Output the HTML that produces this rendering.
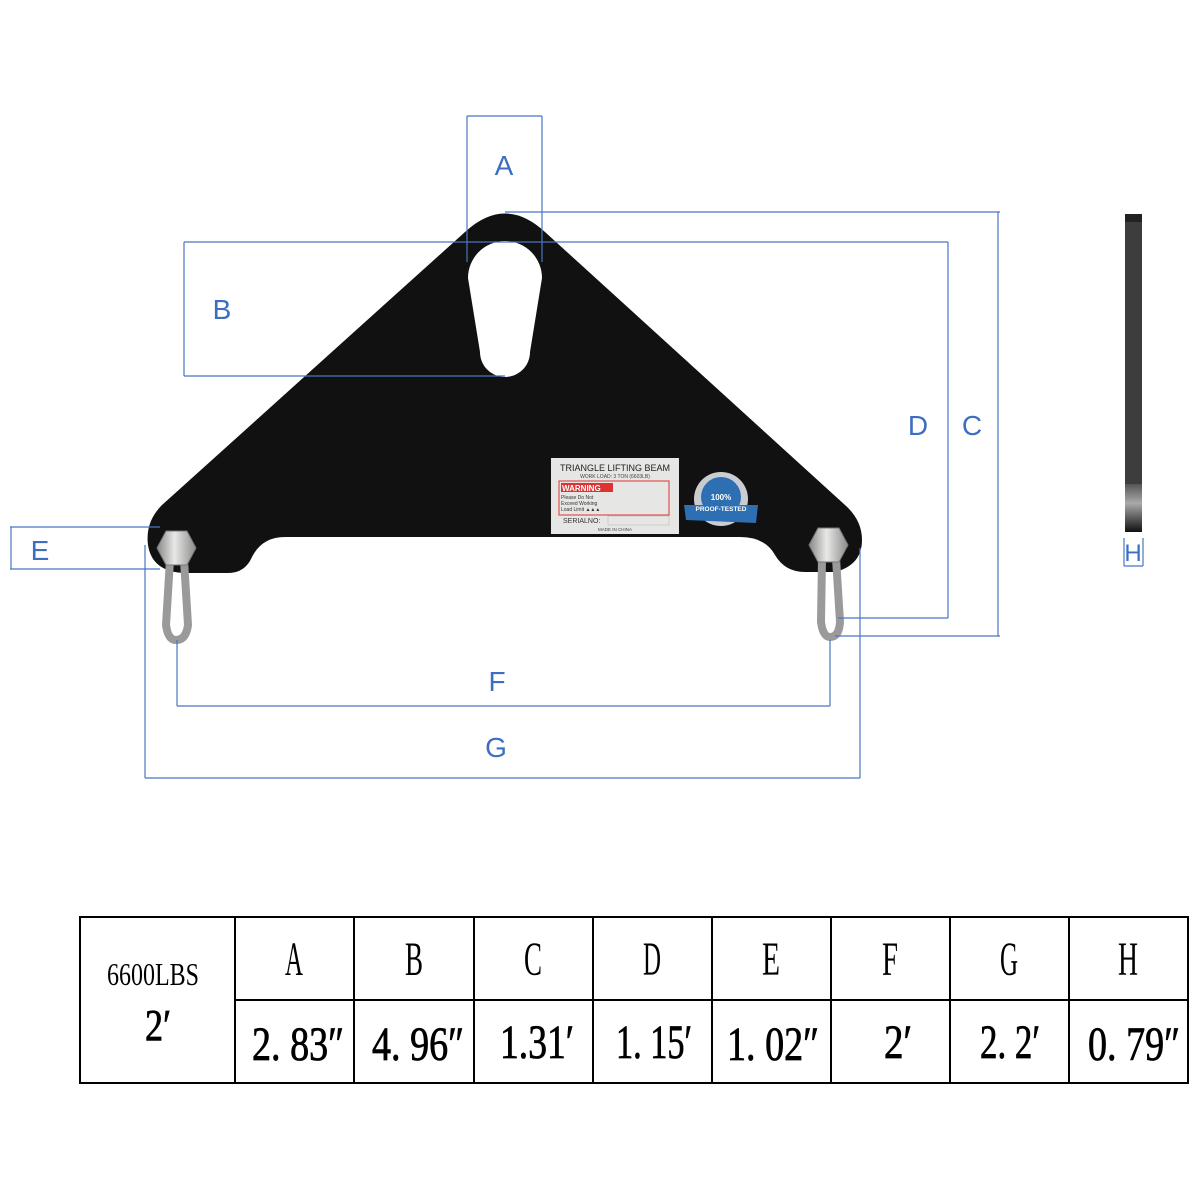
<!DOCTYPE html>
<html><head><meta charset="utf-8"><style>html,body{margin:0;padding:0;background:#fff}svg{display:block}</style></head>
<body>
<svg width="1200" height="1200" viewBox="0 0 1200 1200" xmlns="http://www.w3.org/2000/svg">
<defs>
<linearGradient id="bolt" x1="0" x2="1"><stop offset="0" stop-color="#888"/><stop offset=".45" stop-color="#e8e8e6"/><stop offset="1" stop-color="#8a8a8a"/></linearGradient>
<linearGradient id="side" x1="0" y1="0" x2="0" y2="1"><stop offset="0" stop-color="#555"/><stop offset=".4" stop-color="#aaa"/><stop offset="1" stop-color="#111"/></linearGradient>
</defs>
<path fill="#111" fill-rule="evenodd" d="M 200 573 L 228 573 Q 245 573 252 557 Q 262 537 285 537 L 740 537 Q 765 537 775 555 Q 785 572 805 572 L 835 572 Q 862 565 862 540 Q 862 520 845 505 L 545 232 Q 505 195 465 232 L 162 505 Q 145 522 148 545 Q 152 572 185 573 Z M 468 278 A 37 37 0 0 1 542 278 L 530 352 A 25 25 0 0 1 480 352 Z"/>
<g>
<path d="M170 560 L166 625 Q168 640 176 640 Q186 640 188 625 L184 560" fill="none" stroke="#9a9a9a" stroke-width="8"/>
<polygon points="157,548 166,531 187,531 196,548 187,565 166,565" fill="url(#bolt)" stroke="#777"/>
<path d="M822 558 L821 622 Q823 637 830 637 Q839 637 840 622 L836 558" fill="none" stroke="#9a9a9a" stroke-width="8"/>
<polygon points="809,545 818,528 839,528 848,545 839,562 818,562" fill="url(#bolt)" stroke="#777"/>
</g>
<rect x="551" y="458" width="128" height="76" fill="#e6e6e4"/>
<text x="615" y="471" font-family="Liberation Sans, sans-serif" font-size="9" text-anchor="middle" fill="#222">TRIANGLE LIFTING BEAM</text>
<text x="615" y="478" font-family="Liberation Sans, sans-serif" font-size="5" text-anchor="middle" fill="#444">WORK LOAD: 3 TON (6603LB)</text>
<rect x="559" y="481" width="110" height="34" fill="none" stroke="#d33" stroke-width="1"/>
<rect x="561" y="483" width="52" height="9" fill="#d33"/>
<text x="562" y="491" font-family="Liberation Sans, sans-serif" font-size="8" font-weight="bold" fill="#fff">WARNING</text>
<text x="561" y="499" font-family="Liberation Sans, sans-serif" font-size="5" fill="#333">Please Do Not</text>
<text x="561" y="505" font-family="Liberation Sans, sans-serif" font-size="5" fill="#333">Exceed Working</text>
<text x="561" y="511" font-family="Liberation Sans, sans-serif" font-size="5" fill="#333">Load Limit ▲▲▲</text>
<text x="563" y="523" font-family="Liberation Sans, sans-serif" font-size="7" fill="#333">SERIALNO:</text>
<rect x="608" y="516" width="61" height="9" fill="none" stroke="#bbb" stroke-width=".6"/>
<text x="615" y="531" font-family="Liberation Sans, sans-serif" font-size="4.5" text-anchor="middle" fill="#444">MADE IN CHINA</text>
<circle cx="721" cy="499" r="27" fill="#c9ccd0"/>
<circle cx="721" cy="497" r="20" fill="#2d6fb2"/>
<path d="M684 505 L758 505 L756 523 L686 520 Z" fill="#2d6fb2"/>
<text x="721" y="500" font-family="Liberation Sans, sans-serif" font-size="8" font-weight="bold" text-anchor="middle" fill="#fff">100%</text>
<text x="721" y="511" font-family="Liberation Sans, sans-serif" font-size="6.5" font-weight="bold" text-anchor="middle" fill="#fff">PROOF-TESTED</text>
<rect x="1125" y="214" width="17" height="270" fill="#3d3d3d"/>
<rect x="1125" y="214" width="17" height="8" fill="#222"/>
<rect x="1125" y="484" width="17" height="48" fill="url(#side)"/>
<g stroke="#4a74c6" stroke-width="1.2" fill="none">
<path d="M467 116 V262 M542 116 V262 M467 116 H542"/>
<path d="M184 242 H948 M184 242 V376 M184 376 H505"/>
<path d="M505 212 H1000 M998 212 V636 M835 636 H1000"/>
<path d="M948 242 V618 M838 618 H948"/>
<path d="M10 527 H160 M10 569 H160 M11 527 V569"/>
<path d="M177 640 V706 M830 640 V706 M177 706 H830"/>
<path d="M145 545 V778 M860 548 V778 M145 778 H860"/>
<path d="M1124 538 V566 M1143 538 V566 M1124 566 H1143"/>
</g>
<g font-family="Liberation Sans, sans-serif" font-size="28" fill="#3d6fc1" text-anchor="middle">
<text x="504" y="175">A</text>
<text x="222" y="319">B</text>
<text x="972" y="435">C</text>
<text x="918" y="435">D</text>
<text x="40" y="560">E</text>
<text x="497" y="691">F</text>
<text x="496" y="757">G</text>
<text x="1133" y="561" font-size="24">H</text>
</g>
<g stroke="#000" stroke-width="2" fill="none">
<rect x="80" y="917" width="1108" height="166"/>
<path d="M235 1000 H1188 M235 917 V1083 M354 917 V1083 M474 917 V1083 M593 917 V1083 M712 917 V1083 M831 917 V1083 M950 917 V1083 M1069 917 V1083"/>
</g>
<g font-family="Liberation Serif, serif" fill="#000" text-anchor="middle">
<text x="153" y="985" font-size="32" textLength="92" lengthAdjust="spacingAndGlyphs">6600LBS</text>
<text x="158" y="1040" font-size="44" textLength="26" lengthAdjust="spacingAndGlyphs" stroke="#000" stroke-width="0.8">2′</text>
<g font-size="48">
<text x="294" y="975" textLength="18" lengthAdjust="spacingAndGlyphs">A</text>
<text x="414" y="975" textLength="18" lengthAdjust="spacingAndGlyphs">B</text>
<text x="533" y="975" textLength="18" lengthAdjust="spacingAndGlyphs">C</text>
<text x="652" y="975" textLength="18" lengthAdjust="spacingAndGlyphs">D</text>
<text x="771" y="975" textLength="18" lengthAdjust="spacingAndGlyphs">E</text>
<text x="890" y="975" textLength="16" lengthAdjust="spacingAndGlyphs">F</text>
<text x="1009" y="975" textLength="18" lengthAdjust="spacingAndGlyphs">G</text>
<text x="1128" y="975" textLength="20" lengthAdjust="spacingAndGlyphs">H</text>
<g stroke="#000" stroke-width="0.8">
<text x="298" y="1060" textLength="92" lengthAdjust="spacingAndGlyphs">2. 83″</text>
<text x="418" y="1060" textLength="92" lengthAdjust="spacingAndGlyphs">4. 96″</text>
<text x="537" y="1058" textLength="74" lengthAdjust="spacingAndGlyphs">1.31′</text>
<text x="654" y="1058" textLength="76" lengthAdjust="spacingAndGlyphs">1. 15′</text>
<text x="773" y="1060" textLength="92" lengthAdjust="spacingAndGlyphs">1. 02″</text>
<text x="898" y="1058" textLength="28" lengthAdjust="spacingAndGlyphs">2′</text>
<text x="1010" y="1058" textLength="60" lengthAdjust="spacingAndGlyphs">2. 2′</text>
<text x="1134" y="1060" textLength="92" lengthAdjust="spacingAndGlyphs">0. 79″</text>
</g>
</g>
</g>
</svg>
</body></html>
